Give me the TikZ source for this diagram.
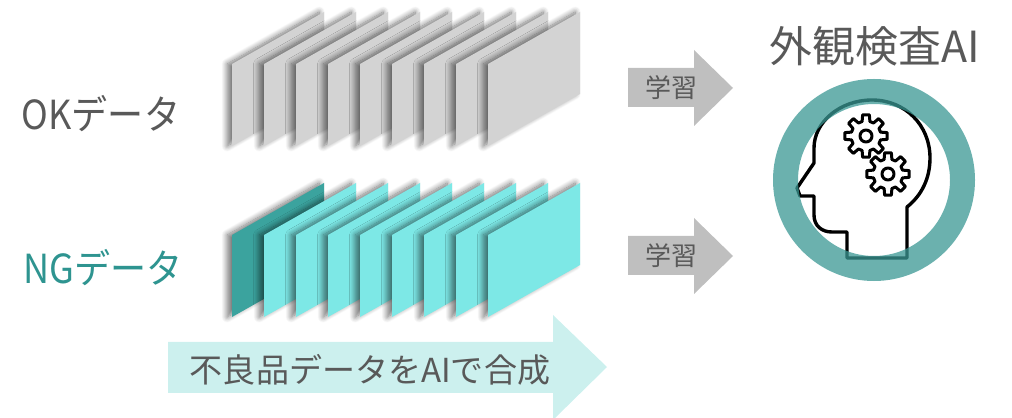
\documentclass[tikz,border=0pt]{standalone}
\usepackage{fontspec}
\setmainfont{Noto Sans CJK JP}
\newfontfamily\narrowjp[FakeStretch=0.9]{Noto Sans CJK JP}
\usetikzlibrary{shadows.blur}
\definecolor{txtgray}{HTML}{595959}
\definecolor{ngteal}{HTML}{2E9490}
\definecolor{okgray}{HTML}{D3D3D3}
\definecolor{ngcyan}{HTML}{7DE8E6}
\definecolor{ngdark}{HTML}{3BA39E}
\definecolor{learngray}{HTML}{BFBFBF}
\definecolor{synthcyan}{HTML}{CCF0EE}
\definecolor{ringteal}{HTML}{3A9793}
\tikzset{sheet/.style={fill=#1, blur shadow={shadow xshift=-1.2mm, shadow yshift=0mm, shadow blur radius=1.4mm, shadow blur steps=12, shadow opacity=55}}}
\tikzset{lbl/.style={inner sep=0, text=txtgray}}
\tikzset{headline/.style={draw=black, line width=0.85mm, line join=round}}
\tikzset{gearline/.style={draw=black, line width=0.75mm, line join=round}}
\tikzset{ring/.style={draw=ringteal, line width=6.25mm, draw opacity=0.75}}
\begin{document}
\begin{tikzpicture}[x=0.25mm, y=-0.25mm]
    \useasboundingbox (0,0) rectangle (1012,418);
    % stacks of image sheets, back to front
    \foreach \i in {0,...,8}
        \fill[sheet=okgray] ({232+32*\i},64) -- ++(92,-52) -- ++(0,82) -- ++(-92,52) -- cycle;
    \fill[sheet=ngdark] (232,235) -- ++(92,-52) -- ++(0,82) -- ++(-92,52) -- cycle;
    \foreach \i in {1,...,8}
        \fill[sheet=ngcyan] ({232+32*\i},235) -- ++(92,-52) -- ++(0,82) -- ++(-92,52) -- cycle;

    \node[lbl, font=\narrowjp\fontsize{28.5}{32}\selectfont] (okdata) at (101,114) {OKデータ};
    \node[lbl, text=ngteal, font=\narrowjp\fontsize{28.5}{32}\selectfont] (ngdata) at (103,268) {NGデータ};

    % learning arrows
    \foreach \yc/\nm in {88/learnok, 256/learnng} {
        \fill[learngray] (628,\yc-20) -- (694,\yc-20) -- (694,\yc-38) -- (733,\yc)
            -- (694,\yc+38) -- (694,\yc+19) -- (628,\yc+19) -- cycle;
        \node[lbl, font=\fontsize{18.5}{22}\selectfont] (\nm) at (671,\yc) {学習};
    }

    % synthesis arrow
    \fill[synthcyan] (168,342) -- (553,342) -- (553,315) -- (607,367) -- (553,420)
        -- (553,393) -- (168,393) -- cycle;
    \node[lbl, font=\fontsize{23.5}{28}\selectfont] (synth) at (370,370) {不良品データをAIで合成};

    \node[lbl, font=\fontsize{30.5}{36}\selectfont] (aititle) at (875,46) {外観検査AI};

    % head with gears
    \draw[headline] (847,258) -- (907,258) -- (907,207)
        .. controls (922,195) and (930,178) .. (930,158)
        .. controls (930,125) and (905,100) .. (872,100)
        .. controls (840,100) and (814,122) .. (814,148)
        -- (814,163) -- (797,188) -- (800,196) -- (814,196) -- (814,215)
        .. controls (814,226) and (822,232) .. (832,232) -- (847,232) -- cycle;
    \foreach \gx/\gy in {866/136, 888/174} {
        \draw[gearline, shift={(\gx,\gy)}] (-14:15)
            \foreach \a in {0,45,...,315} { -- (\a-15:15) -- (\a-9:21.5) -- (\a+9:21.5) -- (\a+15:15) } -- cycle;
        \draw[gearline] (\gx,\gy) circle[radius=6];
    }
    \draw[ring] (874,180) circle[radius=88.5];
\end{tikzpicture}
\end{document}
